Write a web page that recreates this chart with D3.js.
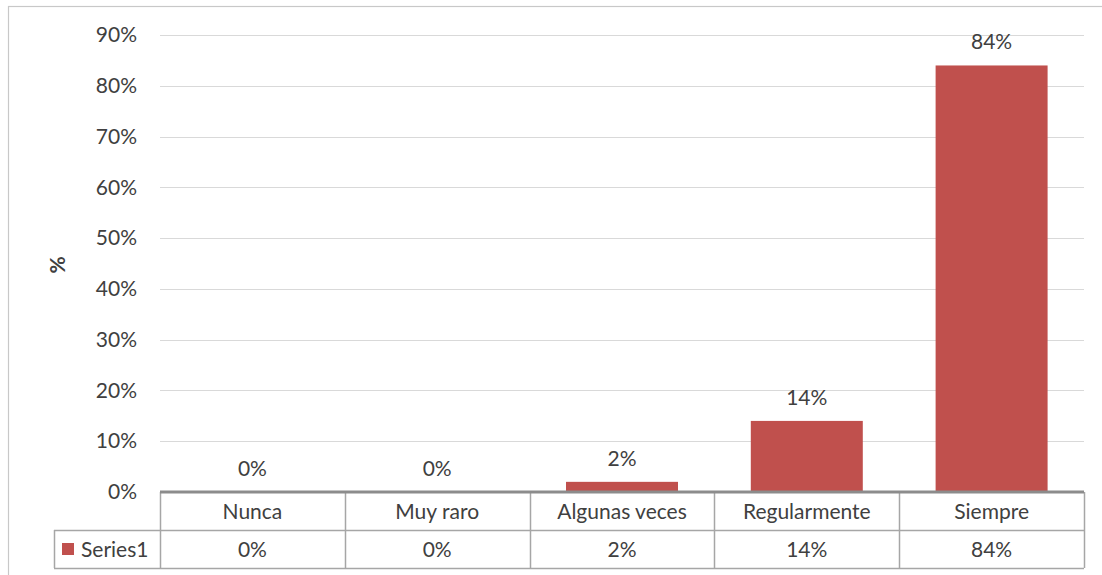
<!DOCTYPE html>
<html><head><meta charset="utf-8">
<script src="https://cdn.jsdelivr.net/npm/d3@7"></script>
<style>body{margin:0;background:#fff}svg{display:block}text{font-family:Lato,"Open Sans",sans-serif;fill:#404040}</style>
</head><body><svg id="c" width="1102" height="575"></svg>
<script>
const categories = ["Nunca","Muy raro","Algunas veces","Regularmente","Siempre"];
const values = [0, 0, 2, 14, 84];
const seriesName = "Series1";
const yTicks = [0,10,20,30,40,50,60,70,80,90];

const svg = d3.select("#c");
const L = 160, R = 1084, T = 35, B = 492, row = 38;
const x = d3.scaleBand().domain(categories).range([L, R]).paddingInner(0.394).paddingOuter(0.197);
const xb = d3.scaleBand().domain(categories).range([L, R]);
const y = d3.scaleLinear().domain([0, 90]).range([B, T]);
const fs = 21;

// outer border
svg.append("rect").attr("x",8.5).attr("y",6.5).attr("width",1200).attr("height",700)
  .attr("fill","none").attr("stroke","#c8c8c8").attr("stroke-width",1.2);

// gridlines
svg.append("g").selectAll("line").data(yTicks.filter(d=>d>0)).join("line")
  .attr("x1",L).attr("x2",R).attr("y1",d=>Math.round(y(d))+0.5).attr("y2",d=>Math.round(y(d))+0.5)
  .attr("stroke","#d9d9d9").attr("stroke-width",1.2);

// y axis labels
const yAxis = d3.axisLeft(y).tickValues(yTicks).tickFormat(d=>d+"%").tickSize(0).tickPadding(0);
const ya = svg.append("g").attr("transform",`translate(${L-23},0)`).call(yAxis);
ya.select(".domain").remove();
ya.selectAll("text").attr("font-size",fs).style("font-family","Lato,sans-serif").attr("fill","#404040");

// y title
svg.append("text").attr("transform",`translate(${65},${265}) rotate(-90)`).attr("text-anchor","middle")
  .attr("font-size",fs).attr("font-weight","bold").text("%");

// bars
svg.append("g").selectAll("rect").data(values).join("rect")
  .attr("x",(d,i)=>x(categories[i])).attr("width",x.bandwidth())
  .attr("y",d=>y(d)).attr("height",d=>B-y(d)).attr("fill","#c0504d");

// data labels
svg.append("g").selectAll("text").data(values).join("text")
  .attr("x",(d,i)=>x(categories[i])+x.bandwidth()/2).attr("y",d=>y(d)-16)
  .attr("text-anchor","middle").attr("font-size",fs).text(d=>d+"%");

// data table
const tbl = svg.append("g");
const bc = "#a6a6a6";
tbl.append("line").attr("x1",L).attr("x2",R).attr("y1",B+row+0.5).attr("y2",B+row+0.5).attr("stroke",bc).attr("stroke-width",1.5);
tbl.append("line").attr("x1",54).attr("x2",L).attr("y1",B+row+0.5).attr("y2",B+row+0.5).attr("stroke",bc).attr("stroke-width",1.5);
tbl.append("line").attr("x1",54).attr("x2",R).attr("y1",B+2*row+0.5).attr("y2",B+2*row+0.5).attr("stroke",bc).attr("stroke-width",1.5);
tbl.append("line").attr("x1",54.5).attr("x2",54.5).attr("y1",B+row).attr("y2",B+2*row).attr("stroke",bc).attr("stroke-width",1.5);
const vx = categories.map(c=>xb(c)).concat([R]);
tbl.selectAll("line.v").data(vx).join("line").attr("class","v")
  .attr("x1",d=>Math.round(d)+0.5).attr("x2",d=>Math.round(d)+0.5).attr("y1",B).attr("y2",B+2*row)
  .attr("stroke",bc).attr("stroke-width",1.5);
tbl.selectAll("text.cat").data(categories).join("text").attr("class","cat")
  .attr("x",d=>xb(d)+xb.bandwidth()/2).attr("y",B+row/2+8).attr("text-anchor","middle")
  .attr("font-size",fs).text(d=>d);
tbl.selectAll("text.val").data(values).join("text").attr("class","val")
  .attr("x",(d,i)=>xb(categories[i])+xb.bandwidth()/2).attr("y",B+row*1.5+8).attr("text-anchor","middle")
  .attr("font-size",fs).text(d=>d+"%");
tbl.append("rect").attr("x",62).attr("y",B+row*1.5-6).attr("width",12).attr("height",12).attr("fill","#c0504d");
tbl.append("text").attr("x",81).attr("y",B+row*1.5+8).attr("font-size",fs).text(seriesName);

// axis line at zero
svg.append("line").attr("x1",L).attr("x2",R).attr("y1",B).attr("y2",B).attr("stroke","#8c8c8c").attr("stroke-width",3);
</script></body></html>
